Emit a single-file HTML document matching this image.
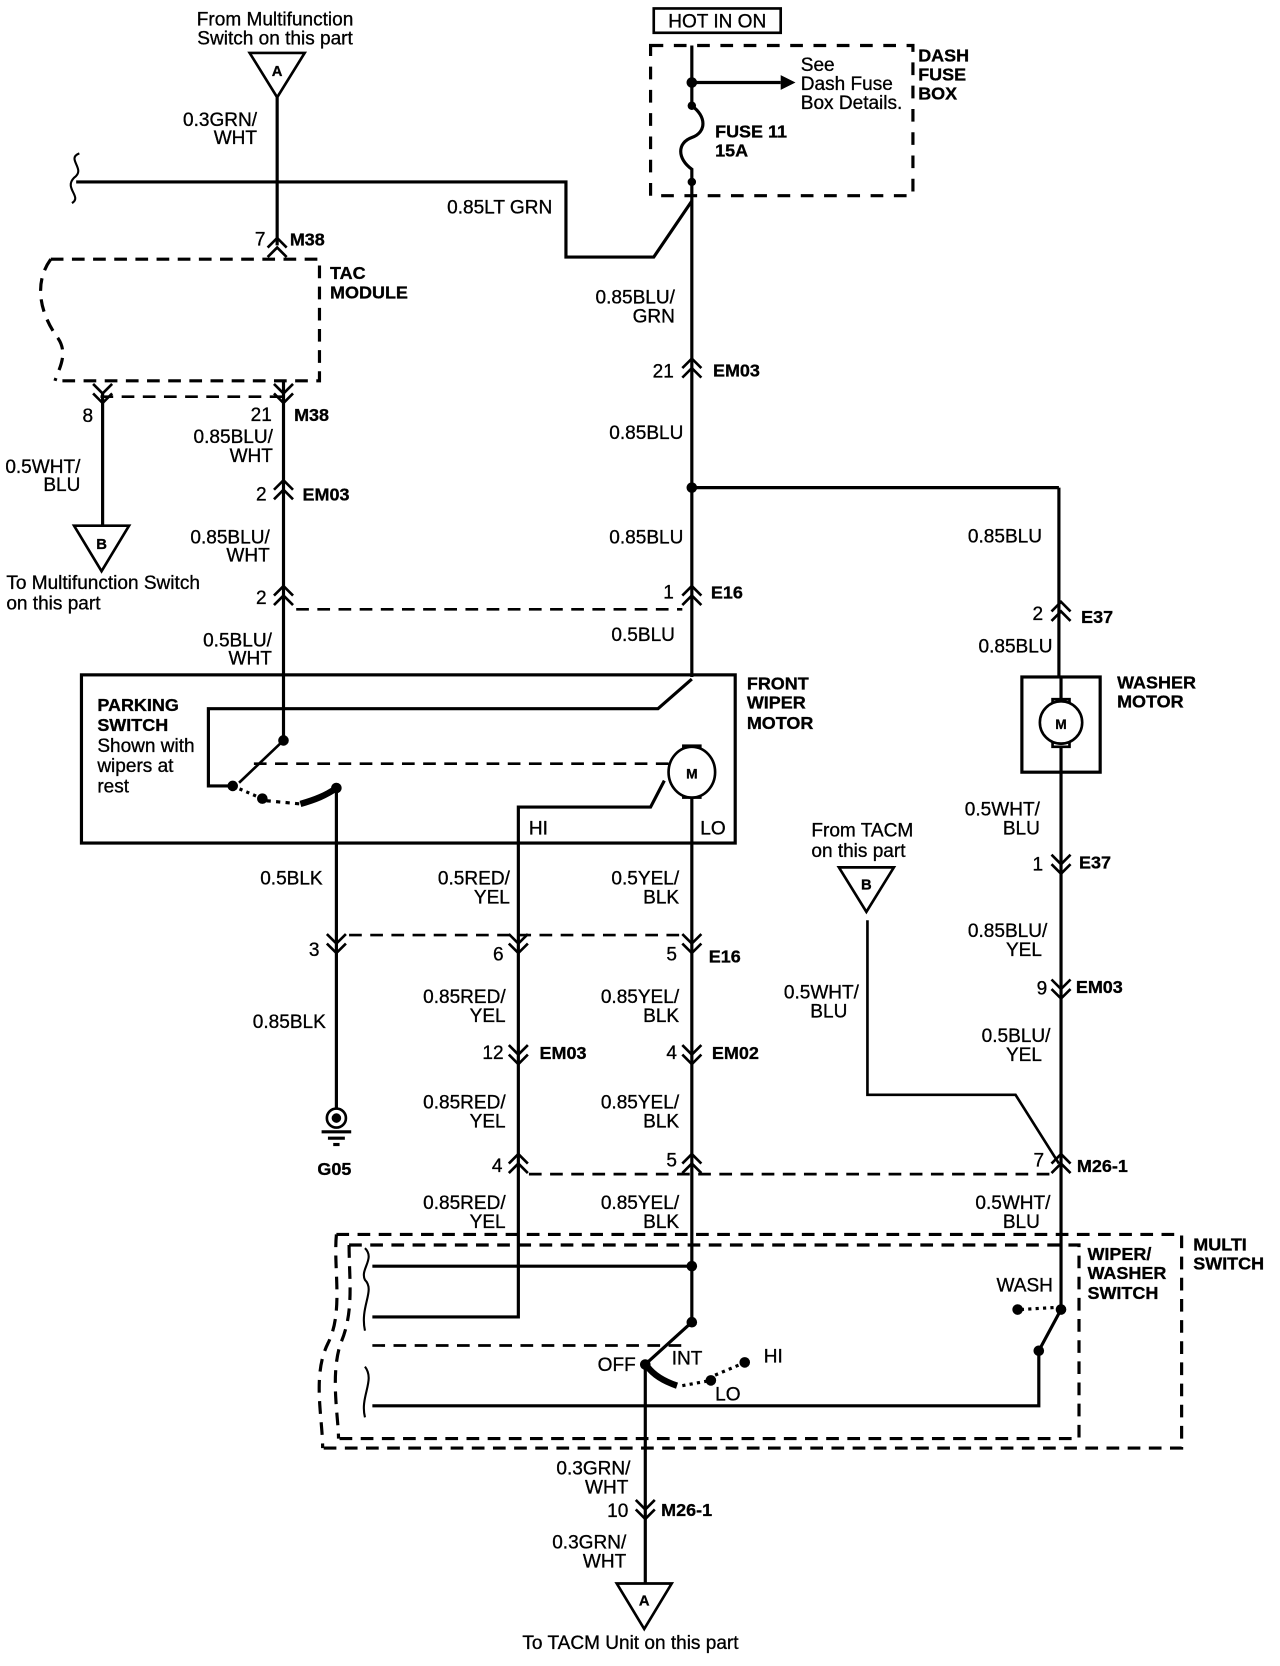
<!DOCTYPE html>
<html><head><meta charset="utf-8">
<style>
html,body{margin:0;padding:0;background:#fff;}
svg{display:block;}
text{font-family:"Liberation Sans",Arial,sans-serif;font-size:18px;fill:#000;stroke:#000;stroke-width:0.3px;}
.b{font-weight:bold;font-size:17px;}
.r{text-anchor:end;}
.m{text-anchor:middle;}
</style></head><body>
<svg width="1280" height="1666" viewBox="0 0 1210 1575" preserveAspectRatio="none" xmlns="http://www.w3.org/2000/svg">
<defs>
<path id="up" d="M-9,-2 L0,-11 L9,-2 M-9,7 L0,-2 L9,7" fill="none" stroke="#000" stroke-width="2.5"/>
<path id="dn" d="M-9,-7 L0,2 L9,-7 M-9,2 L0,11 L9,2" fill="none" stroke="#000" stroke-width="2.5"/>
</defs>
<g fill="none" stroke="#000" stroke-width="3">
<polygon points="236,50 288,50 262,92" stroke-width="2.5"/>
<line x1="262" y1="92" x2="262" y2="232"/>
<path d="M72,172 H535 V243 H618 L654,190" />
<path d="M75,145 C62,150 82,160 70,168 C60,178 78,186 68,192" stroke-width="2"/>
<path d="M48,245 H302 V360 H52" stroke-dasharray="12,8"/>
<path d="M48,245 C30,270 40,300 55,320 C65,335 55,350 52,360" stroke-dasharray="12,8"/>
<line x1="95" y1="375" x2="268" y2="375" stroke-dasharray="12,8" stroke-width="2.5"/>
<line x1="97" y1="372" x2="97" y2="497"/>
<polygon points="70,497 122,497 96,540" stroke-width="2.5"/>
<line x1="268" y1="360" x2="268" y2="700"/>
<line x1="280" y1="576" x2="645" y2="576" stroke-dasharray="12,8" stroke-width="2.5"/>
<rect x="618" y="8" width="120" height="23" stroke-width="2.5"/>
<rect x="615" y="43" width="248" height="142" stroke-dasharray="12,10"/>
<path d="M654,43 V100 C668,110 668,125 654,130 C640,135 640,150 654,160 V640"/>
<line x1="654" y1="78" x2="738" y2="78"/>
<line x1="654" y1="461" x2="1001" y2="461"/>
<line x1="1001" y1="461" x2="1001" y2="640"/>
<rect x="966" y="640" width="74" height="90"/>
<line x1="1003" y1="640" x2="1003" y2="1240"/>
<rect x="77" y="638" width="618" height="159"/>
<path d="M654,642 L622,670 H197 V743 H220"/>
<line x1="654" y1="740" x2="654" y2="1250"/>
<path d="M268,700 L226,740" stroke-width="2.5"/>
<path d="M220,743 L250,756" stroke-dasharray="3,4"/>
<path d="M252,757 L284,760" stroke-dasharray="4,5"/>
<path d="M284,760 C298,756 308,752 318,745" stroke-width="6"/>
<line x1="318" y1="745" x2="318" y2="1050"/>
<line x1="240" y1="722" x2="632" y2="722" stroke-dasharray="12,8" stroke-width="2.5"/>
<path d="M628,738 L615,763 H490 V1245 H352"/>
<line x1="304" y1="1070" x2="332" y2="1070"/>
<line x1="310" y1="1076" x2="326" y2="1076"/>
<line x1="315" y1="1082" x2="321" y2="1082"/>
<line x1="330" y1="884" x2="645" y2="884" stroke-dasharray="12,8" stroke-width="2.5"/>
<line x1="500" y1="1110" x2="995" y2="1110" stroke-dasharray="12,8" stroke-width="2.5"/>
<polygon points="793,820 845,820 819,862" stroke-width="2.5"/>
<path d="M820,870 V1035 H960 L1001,1100" stroke-width="2.5"/>
<path d="M318,1167 H1117 V1369 H305" stroke-dasharray="12,8"/>
<path d="M318,1167 C315,1200 325,1240 310,1270 C295,1300 305,1340 305,1369" stroke-dasharray="12,8"/>
<path d="M330,1177 H1020 V1360 H320" stroke-dasharray="12,8"/>
<path d="M330,1177 C330,1210 335,1240 322,1270 C312,1300 320,1340 320,1360" stroke-dasharray="12,8"/>
<path d="M352,1197 H654"/>
<path d="M345,1180 C355,1190 340,1200 345,1210 C355,1220 340,1235 345,1258" stroke-width="2"/>
<path d="M345,1292 C355,1305 340,1320 345,1340" stroke-width="2"/>
<line x1="352" y1="1272" x2="648" y2="1272" stroke-dasharray="12,8" stroke-width="2.5"/>
<path d="M654,1250 L612,1288"/>
<path d="M612,1292 C618,1300 628,1306 640,1310" stroke-width="6"/>
<path d="M645,1310 L672,1305" stroke-dasharray="3,4"/>
<path d="M676,1300 L702,1289" stroke-dasharray="3,4"/>
<line x1="610" y1="1290" x2="610" y2="1497"/>
<path d="M352,1329 H982 V1277 L1003,1238"/>
<path d="M965,1238 L998,1236" stroke-dasharray="3,4"/>
<polygon points="583,1497 635,1497 609,1540" stroke-width="2.5"/>
</g>
<g fill="#fff" stroke="#000" stroke-width="2.5">
<rect x="646" y="705" width="16" height="7"/><rect x="646" y="747" width="16" height="7"/>
<ellipse cx="654" cy="730" rx="22" ry="24"/>
<rect x="995" y="661" width="16" height="6"/><rect x="995" y="700" width="16" height="6"/>
<circle cx="1003" cy="683" r="20"/>
<circle cx="318" cy="1057" r="9"/>
</g>
<g fill="#000">
<circle cx="318" cy="1057" r="4.5"/>
<circle cx="654" cy="78" r="5"/><circle cx="654" cy="100" r="4"/><circle cx="654" cy="172" r="4"/>
<polygon points="738,71 752,78 738,85"/>
<circle cx="654" cy="461" r="5"/>
<circle cx="268" cy="700" r="5"/><circle cx="220" cy="743" r="5"/><circle cx="248" cy="755" r="5"/><circle cx="318" cy="745" r="5"/>
<circle cx="654" cy="1197" r="5"/><circle cx="654" cy="1250" r="5"/><circle cx="610" cy="1290" r="5"/>
<circle cx="672" cy="1305" r="5"/><circle cx="704" cy="1288" r="5"/>
<circle cx="1003" cy="1238" r="5"/><circle cx="962" cy="1238" r="5"/><circle cx="982" cy="1277" r="5"/>
</g>
<use href="#up" x="262" y="236"/>
<use href="#up" x="654" y="350"/><use href="#up" x="268" y="465"/><use href="#up" x="268" y="565"/>
<use href="#up" x="654" y="565"/><use href="#up" x="1003" y="580"/>
<use href="#up" x="490" y="1102"/><use href="#up" x="654" y="1102"/><use href="#up" x="1003" y="1102"/>
<use href="#dn" x="268" y="370"/><use href="#dn" x="97" y="370"/>
<use href="#dn" x="318" y="890"/><use href="#dn" x="490" y="890"/><use href="#dn" x="654" y="890"/>
<use href="#dn" x="490" y="995"/><use href="#dn" x="654" y="995"/>
<use href="#dn" x="1003" y="815"/><use href="#dn" x="1003" y="933"/><use href="#dn" x="610" y="1425"/>
<text x="260" y="24" class="m">From Multifunction</text>
<text x="260" y="42" class="m">Switch on this part</text>
<text x="262" y="72" class="m b" style="font-size:14px">A</text>
<text x="243" y="119" class="r">0.3GRN/</text><text x="243" y="136" class="r">WHT</text>
<text x="522" y="202" class="r">0.85LT GRN</text>
<text x="251" y="232" class="r">7</text><text x="274" y="232" class="b">M38</text>
<text x="312" y="264" class="b">TAC</text><text x="312" y="282" class="b">MODULE</text>
<text x="88" y="399" class="r">8</text>
<text x="76" y="447" class="r">0.5WHT/</text><text x="76" y="464" class="r">BLU</text>
<text x="96" y="519" class="m b" style="font-size:14px">B</text>
<text x="6" y="557">To Multifunction Switch</text><text x="6" y="576">on this part</text>
<text x="257" y="398" class="r">21</text><text x="278" y="398" class="b">M38</text>
<text x="258" y="419" class="r">0.85BLU/</text><text x="258" y="437" class="r">WHT</text>
<text x="252" y="473" class="r">2</text><text x="286" y="473" class="b">EM03</text>
<text x="255" y="514" class="r">0.85BLU/</text><text x="255" y="531" class="r">WHT</text>
<text x="252" y="571" class="r">2</text>
<text x="257" y="611" class="r">0.5BLU/</text><text x="257" y="628" class="r">WHT</text>
<text x="678" y="26" class="m">HOT IN ON</text>
<text x="757" y="67">See</text><text x="757" y="85">Dash Fuse</text><text x="757" y="103">Box Details.</text>
<text x="676" y="130" class="b">FUSE 11</text><text x="676" y="148" class="b">15A</text>
<text x="868" y="58" class="b">DASH</text><text x="868" y="76" class="b">FUSE</text><text x="868" y="94" class="b">BOX</text>
<text x="638" y="287" class="r">0.85BLU/</text><text x="638" y="305" class="r">GRN</text>
<text x="637" y="357" class="r">21</text><text x="674" y="356" class="b">EM03</text>
<text x="646" y="415" class="r">0.85BLU</text>
<text x="646" y="514" class="r">0.85BLU</text>
<text x="637" y="566" class="r">1</text><text x="672" y="566" class="b">E16</text>
<text x="638" y="606" class="r">0.5BLU</text>
<text x="985" y="513" class="r">0.85BLU</text>
<text x="986" y="586" class="r">2</text><text x="1022" y="589" class="b">E37</text>
<text x="995" y="617" class="r">0.85BLU</text>
<text x="1003" y="689" class="m b" style="font-size:13px">M</text>
<text x="1056" y="651" class="b">WASHER</text><text x="1056" y="669" class="b">MOTOR</text>
<text x="706" y="652" class="b">FRONT</text><text x="706" y="670" class="b">WIPER</text><text x="706" y="689" class="b">MOTOR</text>
<text x="654" y="736" class="m b" style="font-size:13px">M</text>
<text x="92" y="672" class="b">PARKING</text><text x="92" y="691" class="b">SWITCH</text>
<text x="92" y="711">Shown with</text><text x="92" y="730">wipers at</text><text x="92" y="749">rest</text>
<text x="500" y="789">HI</text><text x="662" y="789">LO</text>
<text x="305" y="836" class="r">0.5BLK</text>
<text x="482" y="836" class="r">0.5RED/</text><text x="482" y="854" class="r">YEL</text>
<text x="642" y="836" class="r">0.5YEL/</text><text x="642" y="854" class="r">BLK</text>
<text x="302" y="904" class="r">3</text><text x="476" y="908" class="r">6</text>
<text x="640" y="908" class="r">5</text><text x="670" y="910" class="b">E16</text>
<text x="308" y="972" class="r">0.85BLK</text>
<text x="300" y="1111" class="b">G05</text>
<text x="478" y="948" class="r">0.85RED/</text><text x="478" y="966" class="r">YEL</text>
<text x="642" y="948" class="r">0.85YEL/</text><text x="642" y="966" class="r">BLK</text>
<text x="476" y="1001" class="r">12</text><text x="510" y="1001" class="b">EM03</text>
<text x="640" y="1001" class="r">4</text><text x="673" y="1001" class="b">EM02</text>
<text x="478" y="1048" class="r">0.85RED/</text><text x="478" y="1066" class="r">YEL</text>
<text x="642" y="1048" class="r">0.85YEL/</text><text x="642" y="1066" class="r">BLK</text>
<text x="475" y="1108" class="r">4</text><text x="640" y="1103" class="r">5</text>
<text x="987" y="1103" class="r">7</text><text x="1018" y="1108" class="b">M26-1</text>
<text x="478" y="1143" class="r">0.85RED/</text><text x="478" y="1161" class="r">YEL</text>
<text x="642" y="1143" class="r">0.85YEL/</text><text x="642" y="1161" class="r">BLK</text>
<text x="993" y="1143" class="r">0.5WHT/</text><text x="983" y="1161" class="r">BLU</text>
<text x="983" y="771" class="r">0.5WHT/</text><text x="983" y="789" class="r">BLU</text>
<text x="986" y="823" class="r">1</text><text x="1020" y="821" class="b">E37</text>
<text x="990" y="886" class="r">0.85BLU/</text><text x="985" y="904" class="r">YEL</text>
<text x="990" y="940" class="r">9</text><text x="1017" y="939" class="b">EM03</text>
<text x="993" y="985" class="r">0.5BLU/</text><text x="985" y="1003" class="r">YEL</text>
<text x="767" y="791">From TACM</text><text x="767" y="810">on this part</text>
<text x="819" y="841" class="m b" style="font-size:14px">B</text>
<text x="812" y="944" class="r">0.5WHT/</text><text x="801" y="962" class="r">BLU</text>
<text x="1128" y="1182" class="b">MULTI</text><text x="1128" y="1200" class="b">SWITCH</text>
<text x="1028" y="1191" class="b">WIPER/</text><text x="1028" y="1209" class="b">WASHER</text><text x="1028" y="1228" class="b">SWITCH</text>
<text x="942" y="1221">WASH</text>
<text x="565" y="1296">OFF</text><text x="635" y="1290">INT</text><text x="722" y="1288">HI</text><text x="676" y="1324">LO</text>
<text x="596" y="1394" class="r">0.3GRN/</text><text x="594" y="1412" class="r">WHT</text>
<text x="594" y="1434" class="r">10</text><text x="625" y="1433" class="b">M26-1</text>
<text x="592" y="1464" class="r">0.3GRN/</text><text x="592" y="1482" class="r">WHT</text>
<text x="609" y="1518" class="m b" style="font-size:14px">A</text>
<text x="596" y="1559" class="m">To TACM Unit on this part</text>
</svg>
</body></html>
